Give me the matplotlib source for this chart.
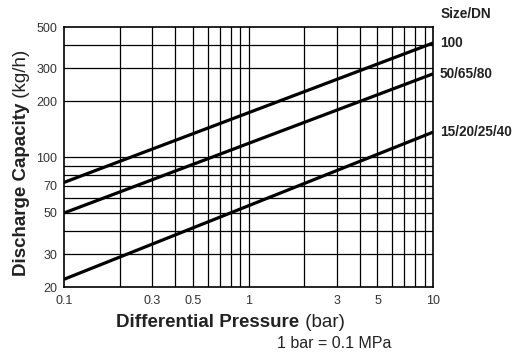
import matplotlib
matplotlib.use('Agg')
import matplotlib.pyplot as plt
from matplotlib.ticker import FixedLocator, NullFormatter, NullLocator

plt.rcParams['font.family'] = ['Liberation Sans', 'DejaVu Sans']

# ---- data (log-log straight lines, end points) ----
pressure = [0.1, 10]
cap_15_40 = [22, 136]
cap_50_80 = [50, 280]
cap_100 = [73, 410]
series = [(cap_100, '100'), (cap_50_80, '50/65/80'), (cap_15_40, '15/20/25/40')]

x_ticks = [0.1, 0.3, 0.5, 1, 3, 5, 10]
x_tick_labels = ['0.1', '0.3', '0.5', '1', '3', '5', '10']
y_ticks = [20, 30, 50, 70, 100, 200, 300, 500]
y_tick_labels = ['20', '30', '50', '70', '100', '200', '300', '500']
x_grid = [0.2, 0.3, 0.4, 0.5, 0.6, 0.7, 0.8, 0.9, 1, 2, 3, 4, 5, 6, 7, 8, 9]
y_grid = [30, 40, 50, 60, 70, 80, 90, 100, 200, 300, 400]

fig = plt.figure(figsize=(5.2, 3.59), dpi=100)
ax = fig.add_axes([64 / 520, 1 - 287 / 359, 369 / 520, 260 / 359])
ax.set_xscale('log')
ax.set_yscale('log')
ax.set_xlim(0.1, 10)
ax.set_ylim(20, 500)

for gx in x_grid:
    ax.axvline(gx, color='black', lw=0.9, zorder=1)
for gy in y_grid:
    ax.axhline(gy, color='black', lw=0.9, zorder=1)

for vals, name in series:
    ax.plot(pressure, vals, color='black', lw=2.3, solid_capstyle='butt', zorder=3)
    ax.annotate(name, xy=(pressure[-1], vals[-1]), xytext=(5, 0),
                textcoords='offset points', va='center', ha='left',
                fontsize=9.8, fontweight='bold', color='#222222',
                annotation_clip=False)

fig.text(466 / 520, 1 - 14 / 359, 'Size/DN', fontsize=9.8, color='#222222',
         fontweight='bold', ha='center', va='center')

ax.xaxis.set_major_locator(FixedLocator(x_ticks))
ax.xaxis.set_minor_locator(NullLocator())
ax.set_xticklabels(x_tick_labels)
ax.yaxis.set_major_locator(FixedLocator(y_ticks))
ax.yaxis.set_minor_locator(NullLocator())
ax.yaxis.set_minor_formatter(NullFormatter())
ax.set_yticklabels(y_tick_labels)
ax.tick_params(length=0, labelsize=9, labelcolor='#333333')
ax.tick_params(axis='x', pad=6)
ax.tick_params(axis='y', pad=5)
for s in ax.spines.values():
    s.set_linewidth(1.2)

# axis titles: bold part + normal unit part
tx = fig.text(208 / 520, 1 - 327 / 359, 'Differential Pressure', fontsize=13.5,
              fontweight='bold', ha='center', va='baseline', color='#222222')
ax.annotate(' (bar)', xy=(1, 0), xycoords=tx, va='bottom', ha='left',
            fontsize=13.5, color='#222222', annotation_clip=False)

ty = fig.text(22 / 520, 1 - 276 / 359, 'Discharge Capacity', fontsize=13.5,
              fontweight='bold', rotation=90, ha='center', va='bottom',
              color='#222222')
ax.annotate(' (kg/h)', xy=(0, 1), xycoords=ty, va='bottom', ha='left',
            rotation=90, fontsize=13.5, color='#222222', annotation_clip=False)

fig.text(334 / 520, 1 - 344 / 359, '1 bar = 0.1 MPa', fontsize=11.5,
         ha='center', va='center', color='#222222')

fig.savefig('out.png', dpi=100)
